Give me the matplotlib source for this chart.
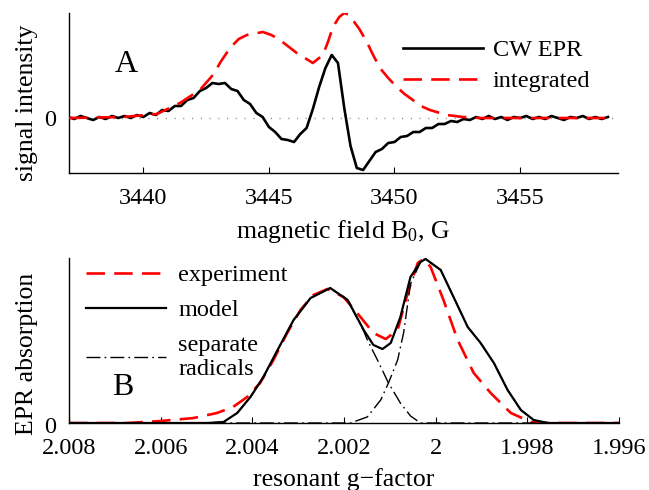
import matplotlib
matplotlib.use('Agg')
import matplotlib.pyplot as plt
from matplotlib.lines import Line2D
from matplotlib.transforms import ScaledTranslation

plt.rcParams['font.family'] = ['Liberation Serif', 'DejaVu Serif']
plt.rcParams['mathtext.fontset'] = 'custom'
plt.rcParams['mathtext.rm'] = 'Liberation Serif'
plt.rcParams['mathtext.it'] = 'Liberation Serif:italic'

# ---------------- Panel A data ----------------
cw_field = [3437.00, 3437.25, 3437.50, 3437.75, 3438.00, 3438.25, 3438.50, 3438.75,
            3439.00, 3439.25, 3439.50, 3439.75, 3440.00, 3440.25, 3440.50, 3440.75,
            3441.00, 3441.25, 3441.50, 3441.75, 3442.00, 3442.25, 3442.50, 3442.75,
            3443.00, 3443.25, 3443.50, 3443.75, 3444.00, 3444.25, 3444.50, 3444.75,
            3445.00, 3445.25, 3445.50, 3445.75, 3446.00, 3446.25, 3446.50, 3446.75,
            3447.00, 3447.25, 3447.50, 3447.75, 3448.00, 3448.25, 3448.50, 3448.75,
            3449.00, 3449.25, 3449.50, 3449.75, 3450.00, 3450.25, 3450.50, 3450.75,
            3451.00, 3451.25, 3451.50, 3451.75, 3452.00, 3452.25, 3452.50, 3452.75,
            3453.00, 3453.25, 3453.50, 3453.75, 3454.00, 3454.25, 3454.50, 3454.75,
            3455.00, 3455.25, 3455.50, 3455.75, 3456.00, 3456.25, 3456.50, 3456.75,
            3457.00, 3457.25, 3457.50, 3457.75, 3458.00, 3458.25, 3458.50]
cw_signal = [1, -1, 2, 0, -2, 1, -1, 2,
             0, 2, 0, 3, 1, 5, 3, 8,
             7, 12, 12, 18, 20, 27, 30, 35,
             34, 35, 29, 27, 18, 14, 5, 1,
             -9, -14, -21, -22, -24, -16, -10, 9,
             31, 50, 63, 55, 10, -28, -50, -52,
             -43, -34, -31, -25, -24, -19, -18, -14,
             -14, -10, -10, -6, -6, -3, -4, -1,
             -2, 1, -1, 2, -1, 1, -2, 1,
             0, 2, -1, 1, -1, 2, 0, -2,
             1, 0, 2, -1, 1, -1, 1]

int_field = [3437.04, 3439.19, 3440.54, 3441.46, 3442.25, 3442.77, 3443.10, 3443.45,
             3443.80, 3444.12, 3444.76, 3445.10, 3445.44, 3445.80, 3446.11, 3446.75,
             3447.15, 3447.35, 3447.55, 3447.80, 3448.00, 3448.20, 3448.34, 3448.60,
             3448.90, 3449.15, 3449.42, 3449.75, 3450.09, 3450.40, 3450.73, 3451.05,
             3451.41, 3452.08, 3452.72, 3453.40, 3458.57]
int_signal = [0, 1, 4, 15, 28, 43, 57, 70,
              79, 83, 86, 83, 78, 71, 65, 55,
              63, 76, 91, 101, 105, 103, 98, 89,
              76, 63, 50, 40, 31, 24, 18, 12,
              8, 3, 1, 0, 0]

a_xticks = [3440, 3445, 3450, 3455]

# ---------------- Panel B data ----------------
exp_g = [2.0080, 2.00673, 2.00601, 2.00529, 2.00477, 2.00442, 2.00411, 2.00383,
         2.00354, 2.00324, 2.00295, 2.00267, 2.00236, 2.00201, 2.00164, 2.00136,
         2.00109, 2.00083, 2.00061, 2.00039, 2.00026, 2.00011, 1.99983, 1.99952,
         1.99917, 1.99880, 1.99836, 1.99792, 1.99755, 1.99600]
exp_val = [0, 0, 0.012, 0.030, 0.061, 0.098, 0.159, 0.244,
           0.384, 0.549, 0.689, 0.780, 0.817, 0.768, 0.646, 0.549,
           0.512, 0.567, 0.793, 0.976, 1.0, 0.951, 0.750, 0.506,
           0.305, 0.183, 0.061, 0.006, 0, 0]

model_g = [2.0080, 2.00498, 2.00463, 2.00433, 2.00404, 2.00376, 2.00345, 2.00310,
           2.00273, 2.00230, 2.00192, 2.00157, 2.00136, 2.00116, 2.00098, 2.00077,
           2.00055, 2.00033, 2.00022, 1.99989, 1.99961, 1.99930, 1.99902, 1.99873,
           1.99843, 1.99814, 1.99786, 1.99755, 1.99600]
model_val = [0, 0, 0.006, 0.061, 0.159, 0.280, 0.445, 0.628,
             0.762, 0.823, 0.750, 0.567, 0.476, 0.451, 0.488, 0.646,
             0.890, 0.982, 1.0, 0.933, 0.768, 0.585, 0.488, 0.366,
             0.201, 0.079, 0.018, 0, 0]

rad1_g = [2.0080, 2.00498, 2.00463, 2.00433, 2.00404, 2.00376, 2.00345, 2.00310,
          2.00273, 2.00230, 2.00192, 2.00157, 2.00149, 2.00127, 2.00103, 2.00077,
          2.00055, 2.00033, 1.99600]
rad1_val = [0, 0, 0.006, 0.061, 0.159, 0.280, 0.445, 0.628,
            0.762, 0.823, 0.750, 0.560, 0.506, 0.384, 0.244, 0.122,
            0.043, 0, 0]

rad2_g = [2.0080, 2.00186, 2.00149, 2.00120, 2.00103, 2.00083, 2.00070, 2.00055,
          2.00033, 2.00022, 1.99989, 1.99961, 1.99930, 1.99902, 1.99873, 1.99843,
          1.99814, 1.99786, 1.99755, 1.99600]
rad2_val = [0, 0, 0.037, 0.140, 0.244, 0.384, 0.549, 0.847,
            0.982, 1.0, 0.933, 0.768, 0.585, 0.488, 0.366, 0.201,
            0.079, 0.018, 0, 0]

b_xticks = [2.008, 2.006, 2.004, 2.002, 2.000, 1.998, 1.996]
b_xticklabels = ['2.008', '2.006', '2.004', '2.002', '2', '1.998', '1.996']

RED = '#ff0000'
FS = 17.5

fig = plt.figure(figsize=(6.49, 4.9), dpi=100)
W, H = 649, 490
ax1 = fig.add_axes([69 / W, 1 - 173 / H, 549 / W, 160 / H])
ax2 = fig.add_axes([69 / W, 1 - 423 / H, 550 / W, 165 / H])

# ---- Panel A ----
ax1.axhline(0, color='#888888', lw=1.0, ls=(0, (0.8, 5.5)), zorder=1)
l_cw, = ax1.plot(cw_field, cw_signal, color='black', lw=1.9, zorder=2)
l_int, = ax1.plot(int_field, int_signal, color=RED, lw=1.9, dashes=(7, 3.5), zorder=3)
ax1.set_xlim(3437.04, 3458.9)
ax1.set_ylim(-55, 105)
ax1.set_xticks(a_xticks)
ax1.set_yticks([0])
ax1.set_xlabel('magnetic field B$_{0}$, G', fontsize=FS + 1)
ax1.xaxis.set_label_coords(0.5, -0.28)
ax1.set_ylabel('signal intensity', fontsize=FS + 1)
ax1.yaxis.set_label_coords(-0.056, 0.44)
ax1.legend([l_cw, l_int], ['CW EPR', 'integrated'], loc='upper left',
           bbox_to_anchor=(403 / W, 1 - 39 / H), bbox_transform=fig.transFigure,
           frameon=False, borderpad=0, borderaxespad=0, handlelength=3.3,
           handletextpad=0.4, labelspacing=0.37, fontsize=FS)
fig.text(126 / W, 1 - 65 / H, 'A', ha='center', va='center', fontsize=23)

# ---- Panel B ----
ax2.plot(exp_g, exp_val, color=RED, lw=1.9, dashes=(7, 3.5), zorder=2)
ax2.plot(rad1_g, rad1_val, color='black', lw=1.0, dashes=(10, 3, 1.2, 3), zorder=3)
ax2.plot(rad2_g, rad2_val, color='black', lw=1.0, dashes=(10, 3, 1.2, 3), zorder=3)
ax2.plot(model_g, model_val, color='black', lw=1.6, zorder=4)
ax2.set_xlim(2.008, 1.996)
ax2.set_ylim(0, 1.006)
ax2.set_xticks(b_xticks)
ax2.set_xticklabels(b_xticklabels)
ax2.set_yticks([0])
ax2.set_xlabel('resonant g\u2212factor', fontsize=FS + 1)
ax2.xaxis.set_label_coords(0.5, -0.27)
ax2.set_ylabel('EPR absorption', fontsize=FS + 1)
ax2.yaxis.set_label_coords(-0.056, 0.42)
h_exp = Line2D([], [], color=RED, lw=1.9, dashes=(7, 3.5))
h_mod = Line2D([], [], color='black', lw=1.6)
h_rad = Line2D([], [], color='black', lw=1.0, dashes=(10, 3, 1.2, 3))
ax2.legend([h_exp, h_mod, h_rad], ['experiment', 'model', 'separate\nradicals'],
           loc='upper left', bbox_to_anchor=(86 / W, 1 - 264 / H),
           bbox_transform=fig.transFigure, frameon=False, borderpad=0,
           borderaxespad=0, handlelength=3.3, handletextpad=0.5,
           labelspacing=0.55, fontsize=FS)
fig.text(123 / W, 1 - 387 / H, 'B', ha='center', va='center', fontsize=23)

for ax in (ax1, ax2):
    for s in ('top', 'right'):
        ax.spines[s].set_visible(False)
    for s in ('left', 'bottom'):
        ax.spines[s].set_linewidth(1.0)
    ax.tick_params(axis='x', direction='in', length=4, width=0.8, labelsize=FS, pad=11)
    ax.tick_params(axis='y', direction='in', length=0, labelsize=FS, pad=9)

# bottom panel "0" label sits slightly below the baseline in the reference
for lab in ax2.get_yticklabels():
    lab.set_transform(lab.get_transform() + ScaledTranslation(0, -1.5 / 72, fig.dpi_scale_trans))

fig.savefig('out.png', dpi=100)
